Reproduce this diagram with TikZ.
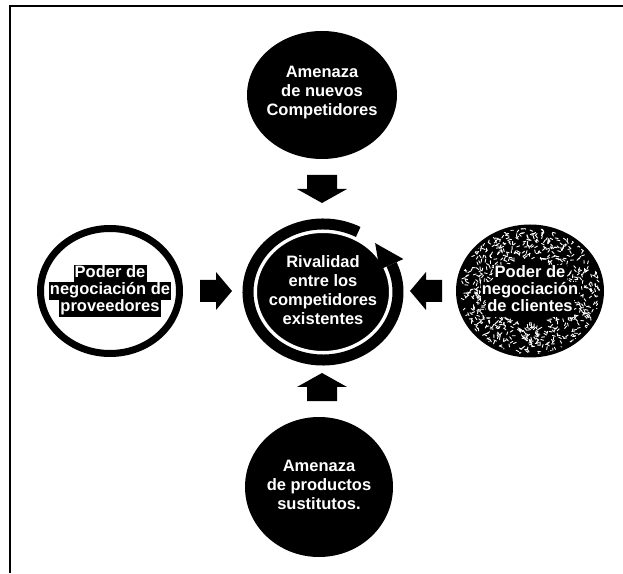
\documentclass[tikz,border=0pt]{standalone}
\usepackage{fontspec}
\setmainfont{Liberation Sans}
\usetikzlibrary{calc,shapes.geometric}

% white text on a black band, one per line
\newcommand{\hlline}[1]{{\setlength{\fboxsep}{1.2pt}\colorbox{black}{\rule[-4pt]{0pt}{15.5pt}#1}}}

\tikzset{
  disc/.style 2 args={ellipse, inner sep=0pt, minimum width=#1, minimum height=#2},
  darkdisc/.style 2 args={disc={#1}{#2}, fill=black},
  label/.style={inner sep=0pt, text=white, align=center,
    font=\bfseries\fontsize{16.5}{19}\selectfont},
  frameline/.style={line width=1.4pt},
  % block arrows pointing right, centred on their own origin
  bigarrow/.pic={\fill (-14,-15) -- (0,-15) -- (0,-25) -- (14,0)
      -- (0,25) -- (0,15) -- (-14,15) -- cycle;},
  smallarrow/.pic={\fill (-16,-11) -- (0,-11) -- (0,-19) -- (16,0)
      -- (0,19) -- (0,11) -- (-16,11) -- cycle;}
}

\begin{document}
\begin{tikzpicture}[x=1pt,y=1pt]
\useasboundingbox (0,0) rectangle (623,573);

% frame edges
\coordinate (fb) at (10,0);
\coordinate (fc) at (10,567);
\coordinate (fr) at (623,567);
\draw[frameline] (fb) -- (fc) -- (fr);

% threat of new entrants
\node[darkdisc={150pt}{128pt}] (top) at (322,478) {};
\node[label] (toptext) at ([yshift=2pt]top) {Amenaza\\de nuevos\\Competidores};

% threat of substitutes
\node[darkdisc={148pt}{140pt}] (bottom) at (319,86) {};
\node[label] (bottomtext) at ([yshift=2pt]bottom) {Amenaza\\de productos\\sustitutos.};

% supplier power
\node[disc={139pt}{125pt}, fill=white, draw=black, line width=7pt] (left) at (110,282) {};
\node[label] (lefttext) at (left) {\hlline{Poder de}\\[-2pt]\hlline{negociación de}\\[-2pt]\hlline{proveedores}};

% buyer power, with a speckled surface
\node[darkdisc={148pt}{133pt}] (right) at (530,282) {};
\begin{scope}
  \clip (right) ellipse [x radius=70pt, y radius=63pt];
  \pgfmathsetseed{11}
  \foreach \i in {1,...,800} {
    \pgfmathsetmacro{\ang}{rnd*360}
    \pgfmathsetmacro{\rad}{0.5+rnd*0.5}
    \pgfmathsetmacro{\rx}{74*\rad}
    \pgfmathsetmacro{\ry}{67*\rad}
    \pgfmathsetmacro{\dir}{rnd*360}
    \draw[white, line width=0.9pt, line cap=round]
      ($(right)+(\ang:\rx pt and \ry pt)$) -- ++(\dir:3);
  }
\end{scope}
\node[label] (righttext) at (right) {\hlline{Poder de}\\[-2pt]\hlline{negociación}\\[-2pt]\hlline{de clientes}};

% rivalry among competitors, with its circular arrow
\node[darkdisc={134pt}{120pt}, draw=white, line width=2pt] (center) at (323,281) {};
\node[label] (centertext) at ([yshift=2pt]center) {Rivalidad\\entre los\\competidores\\existentes};
\draw[line width=11pt] ($(center)+(62:75pt and 68pt)$)
  arc[start angle=62, end angle=384, x radius=75, y radius=68];
\coordinate (headin) at ($(center)+(24:62pt and 55pt)$);
\coordinate (headout) at ($(center)+(24:88pt and 81pt)$);
\coordinate (headtip) at ($(center)+(46:75pt and 68pt)$);
\fill (headin) -- (headout) -- (headtip) -- cycle;

% arrows pointing to the centre
\pic[rotate=-90] (adown) at (322,384) {bigarrow};
\pic[rotate=90] (aup) at (322,186) {bigarrow};
\pic (aright) at (216,282) {smallarrow};
\pic[rotate=180] (aleft) at (426,282) {smallarrow};
\end{tikzpicture}
\end{document}
